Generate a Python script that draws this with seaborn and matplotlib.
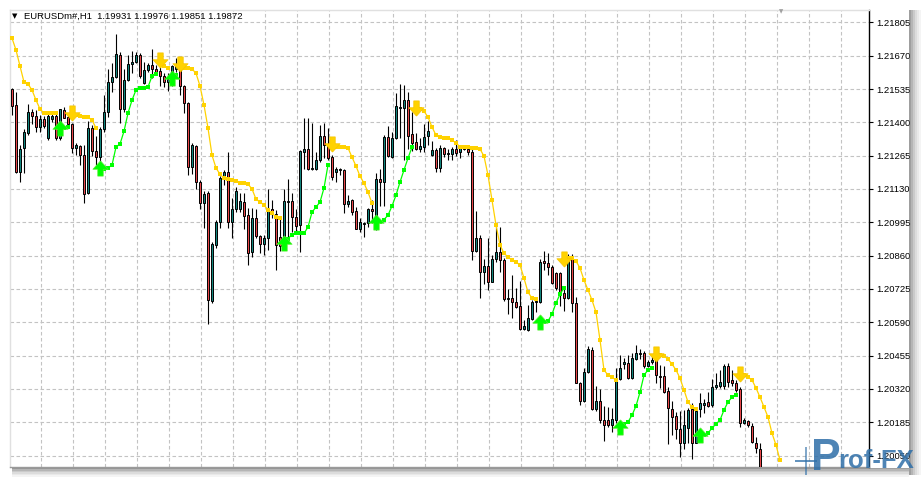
import numpy as np
import pandas as pd
import matplotlib
matplotlib.use("Agg")
import matplotlib.pyplot as plt
import seaborn as sns
from matplotlib.path import Path
from matplotlib.patches import Rectangle

sns.set_style("white")
plt.rcParams["font.family"] = ["Liberation Sans", "DejaVu Sans"]

# ---------------- data (EURUSD H1) ----------------
opens = [
    1.21533, 1.21470, 1.21200, 1.21298, 1.21355, 1.21440, 1.21425, 1.21382, 1.21413, 1.21335,
    1.21412, 1.21425, 1.21335, 1.21450, 1.21422, 1.21392, 1.21298, 1.21304, 1.21267, 1.21112,
    1.21379, 1.21283, 1.21260, 1.21371, 1.21440, 1.21564, 1.21584, 1.21671, 1.21456, 1.21571,
    1.21635, 1.21644, 1.21671, 1.21558, 1.21610, 1.21632, 1.21618, 1.21607, 1.21587, 1.21564,
    1.21564, 1.21618, 1.21625, 1.21547, 1.21479, 1.21220, 1.21305, 1.21159, 1.21072, 1.21112,
    1.20676, 1.20903, 1.20997, 1.21173, 1.21200, 1.20997, 1.21051, 1.21051, 1.21076, 1.21024,
    1.20876, 1.21011, 1.20939, 1.20907, 1.20930, 1.21051, 1.21027, 1.20936, 1.20903, 1.21078,
    1.21081, 1.21017, 1.20984, 1.21281, 1.21294, 1.21210, 1.21213, 1.21247, 1.21344, 1.21312,
    1.21258, 1.21197, 1.21207, 1.21207, 1.21068, 1.21084, 1.21040, 1.20970, 1.20989, 1.20991,
    1.21051, 1.20997, 1.21170, 1.21157, 1.21339, 1.21260, 1.21335, 1.21458, 1.21460, 1.21490,
    1.21351, 1.21319, 1.21292, 1.21301, 1.21344, 1.21267, 1.21288, 1.21217, 1.21297, 1.21271,
    1.21270, 1.21292, 1.21278, 1.21301, 1.21292, 1.21278, 1.20878, 1.20930, 1.20795, 1.20818,
    1.20754, 1.20845, 1.20876, 1.20842, 1.20689, 1.20689, 1.20673, 1.20656, 1.20563, 1.20558,
    1.20602, 1.20671, 1.20673, 1.20838, 1.20829, 1.20815, 1.20788, 1.20791, 1.20707, 1.20687,
    1.20851, 1.20667, 1.20345, 1.20271, 1.20387, 1.20478, 1.20237, 1.20271, 1.20194, 1.20194,
    1.20174, 1.20194, 1.20359, 1.20421, 1.20426, 1.20363, 1.20441, 1.20460, 1.20464, 1.20413,
    1.20428, 1.20440, 1.20372, 1.20372, 1.20313, 1.20237, 1.20210, 1.20156, 1.20100, 1.20160,
    1.20237, 1.20102, 1.20237, 1.20256, 1.20266, 1.20255, 1.20329, 1.20332, 1.20332, 1.20413,
    1.20356, 1.20345, 1.20318, 1.20183, 1.20190, 1.20170, 1.20102, 1.20075,
]
highs = [
    1.21540, 1.21521, 1.21308, 1.21373, 1.21473, 1.21456, 1.21450, 1.21429, 1.21426, 1.21436,
    1.21440, 1.21436, 1.21454, 1.21463, 1.21439, 1.21396, 1.21315, 1.21308, 1.21308, 1.21405,
    1.21389, 1.21345, 1.21382, 1.21510, 1.21618, 1.21639, 1.21756, 1.21686, 1.21618, 1.21672,
    1.21688, 1.21686, 1.21679, 1.21643, 1.21639, 1.21697, 1.21632, 1.21625, 1.21598, 1.21598,
    1.21632, 1.21659, 1.21659, 1.21551, 1.21483, 1.21315, 1.21308, 1.21166, 1.21121, 1.21121,
    1.20916, 1.21004, 1.21183, 1.21207, 1.21281, 1.21092, 1.21139, 1.21112, 1.21112, 1.21054,
    1.21054, 1.21051, 1.20943, 1.20943, 1.21132, 1.21085, 1.21044, 1.21017, 1.21130, 1.21170,
    1.21112, 1.21051, 1.21288, 1.21418, 1.21416, 1.21396, 1.21281, 1.21389, 1.21396, 1.21378,
    1.21267, 1.21220, 1.21215, 1.21209, 1.21105, 1.21090, 1.21058, 1.21011, 1.20997, 1.21054,
    1.21085, 1.21193, 1.21211, 1.21348, 1.21386, 1.21359, 1.21517, 1.21554, 1.21551, 1.21524,
    1.21443, 1.21355, 1.21335, 1.21392, 1.21405, 1.21324, 1.21297, 1.21308, 1.21300, 1.21294,
    1.21301, 1.21328, 1.21308, 1.21308, 1.21305, 1.21292, 1.21040, 1.20943, 1.20846, 1.20930,
    1.20862, 1.20991, 1.20977, 1.20851, 1.20725, 1.20781, 1.20730, 1.20757, 1.20599, 1.20660,
    1.20680, 1.20687, 1.20845, 1.20878, 1.20869, 1.20822, 1.20795, 1.20793, 1.20734, 1.20866,
    1.20866, 1.20691, 1.20349, 1.20403, 1.20494, 1.20491, 1.20332, 1.20318, 1.20251, 1.20248,
    1.20241, 1.20403, 1.20457, 1.20444, 1.20457, 1.20464, 1.20498, 1.20480, 1.20475, 1.20437,
    1.20453, 1.20453, 1.20417, 1.20413, 1.20329, 1.20272, 1.20228, 1.20230, 1.20234, 1.20241,
    1.20262, 1.20237, 1.20305, 1.20278, 1.20309, 1.20359, 1.20383, 1.20397, 1.20421, 1.20424,
    1.20397, 1.20356, 1.20329, 1.20201, 1.20194, 1.20181, 1.20126, 1.20100,
]
lows = [
    1.21429, 1.21193, 1.21157, 1.21193, 1.21348, 1.21393, 1.21359, 1.21359, 1.21378, 1.21330,
    1.21402, 1.21327, 1.21327, 1.21416, 1.21389, 1.21274, 1.21267, 1.21227, 1.21072, 1.21108,
    1.21264, 1.21227, 1.21227, 1.21359, 1.21422, 1.21524, 1.21578, 1.21396, 1.21440, 1.21567,
    1.21598, 1.21639, 1.21580, 1.21554, 1.21605, 1.21578, 1.21591, 1.21548, 1.21544, 1.21526,
    1.21548, 1.21605, 1.21510, 1.21436, 1.21186, 1.21190, 1.21128, 1.21047, 1.20973, 1.20582,
    1.20670, 1.20889, 1.20973, 1.21146, 1.20973, 1.20930, 1.21038, 1.21038, 1.20968, 1.20822,
    1.20855, 1.20930, 1.20872, 1.20862, 1.20882, 1.21013, 1.20801, 1.20878, 1.20895, 1.20916,
    1.20957, 1.20950, 1.20876, 1.21213, 1.21207, 1.21207, 1.21207, 1.21240, 1.21254, 1.21247,
    1.21166, 1.21157, 1.21186, 1.21031, 1.21058, 1.21024, 1.20968, 1.20954, 1.20936, 1.20977,
    1.20991, 1.20964, 1.21062, 1.21062, 1.21260, 1.21256, 1.21332, 1.21335, 1.21247, 1.21294,
    1.21283, 1.21288, 1.21281, 1.21281, 1.21308, 1.21264, 1.21197, 1.21197, 1.21260, 1.21247,
    1.21247, 1.21264, 1.21256, 1.21288, 1.21267, 1.20842, 1.20876, 1.20687, 1.20744, 1.20721,
    1.20752, 1.20835, 1.20795, 1.20676, 1.20622, 1.20608, 1.20646, 1.20558, 1.20558, 1.20556,
    1.20599, 1.20633, 1.20669, 1.20801, 1.20781, 1.20745, 1.20721, 1.20656, 1.20637, 1.20683,
    1.20633, 1.20343, 1.20255, 1.20266, 1.20383, 1.20235, 1.20232, 1.20183, 1.20110, 1.20167,
    1.20147, 1.20183, 1.20356, 1.20399, 1.20359, 1.20359, 1.20437, 1.20440, 1.20407, 1.20410,
    1.20421, 1.20343, 1.20322, 1.20305, 1.20097, 1.20133, 1.20116, 1.20043, 1.20075, 1.20100,
    1.20037, 1.20100, 1.20207, 1.20224, 1.20248, 1.20248, 1.20318, 1.20326, 1.20318, 1.20329,
    1.20332, 1.20309, 1.20167, 1.20178, 1.20167, 1.20102, 1.20059, 1.19960,
]
closes = [
    1.21466, 1.21200, 1.21294, 1.21359, 1.21440, 1.21426, 1.21382, 1.21413, 1.21386, 1.21426,
    1.21425, 1.21335, 1.21452, 1.21418, 1.21392, 1.21298, 1.21308, 1.21267, 1.21108, 1.21379,
    1.21283, 1.21260, 1.21371, 1.21440, 1.21562, 1.21584, 1.21675, 1.21456, 1.21571, 1.21635,
    1.21644, 1.21672, 1.21586, 1.21610, 1.21632, 1.21618, 1.21605, 1.21587, 1.21564, 1.21574,
    1.21628, 1.21632, 1.21547, 1.21477, 1.21220, 1.21308, 1.21159, 1.21072, 1.21109, 1.20680,
    1.20907, 1.20997, 1.21173, 1.21200, 1.20997, 1.21051, 1.21123, 1.21081, 1.21021, 1.20872,
    1.21011, 1.20939, 1.20906, 1.20931, 1.21051, 1.21027, 1.20903, 1.20900, 1.21081, 1.21082,
    1.21017, 1.20981, 1.21283, 1.21294, 1.21213, 1.21215, 1.21247, 1.21344, 1.21308, 1.21254,
    1.21177, 1.21213, 1.21211, 1.21068, 1.21081, 1.21038, 1.20970, 1.20997, 1.20992, 1.21051,
    1.21040, 1.21170, 1.21157, 1.21341, 1.21264, 1.21337, 1.21466, 1.21460, 1.21490, 1.21345,
    1.21315, 1.21292, 1.21304, 1.21341, 1.21364, 1.21288, 1.21217, 1.21297, 1.21270, 1.21274,
    1.21290, 1.21274, 1.21297, 1.21292, 1.21278, 1.20878, 1.20930, 1.20795, 1.20818, 1.20754,
    1.20846, 1.20876, 1.20842, 1.20683, 1.20683, 1.20673, 1.20653, 1.20561, 1.20575, 1.20608,
    1.20673, 1.20677, 1.20835, 1.20829, 1.20815, 1.20750, 1.20727, 1.20707, 1.20687, 1.20849,
    1.20667, 1.20345, 1.20271, 1.20387, 1.20480, 1.20237, 1.20271, 1.20194, 1.20174, 1.20174,
    1.20197, 1.20359, 1.20403, 1.20428, 1.20363, 1.20444, 1.20464, 1.20464, 1.20413, 1.20428,
    1.20437, 1.20376, 1.20367, 1.20309, 1.20241, 1.20207, 1.20156, 1.20100, 1.20174, 1.20234,
    1.20102, 1.20232, 1.20262, 1.20262, 1.20252, 1.20329, 1.20336, 1.20349, 1.20413, 1.20349,
    1.20345, 1.20316, 1.20183, 1.20194, 1.20174, 1.20106, 1.20079, 1.19990,
]

# trailing-stop indicator: bar index -> level
stop_down = {  # yellow line above price
    0: 1.21741, 1: 1.21693, 2: 1.21628, 3: 1.21563, 4: 1.21555, 5: 1.21531, 6: 1.21490,
    7: 1.21454, 8: 1.21437, 9: 1.21437, 10: 1.21437, 11: 1.21437,
    15: 1.21437, 16: 1.21429, 17: 1.21425, 18: 1.21423, 19: 1.21421, 20: 1.21409, 21: 1.21377,
    37: 1.21652, 38: 1.21628, 39: 1.21620,
    42: 1.21636, 43: 1.21620, 44: 1.21620, 45: 1.21616, 46: 1.21599, 47: 1.21547, 48: 1.21470,
    49: 1.21377, 50: 1.21267, 51: 1.21215, 52: 1.21190, 53: 1.21174, 54: 1.21170, 55: 1.21166,
    56: 1.21162, 57: 1.21156, 58: 1.21153, 59: 1.21150, 60: 1.21130, 61: 1.21089, 62: 1.21077,
    63: 1.21065, 64: 1.21045, 65: 1.21032, 66: 1.21017, 67: 1.21012,
    80: 1.21312, 81: 1.21301, 82: 1.21301, 83: 1.21301, 84: 1.21296, 85: 1.21259, 86: 1.21223,
    87: 1.21182, 88: 1.21154, 89: 1.21117, 90: 1.21073,
    101: 1.21458, 102: 1.21456, 103: 1.21445, 104: 1.21421, 105: 1.21381, 106: 1.21348,
    107: 1.21341, 108: 1.21338, 109: 1.21336, 110: 1.21328, 111: 1.21316, 112: 1.21301,
    113: 1.21300, 114: 1.21300, 115: 1.21298, 116: 1.21296, 117: 1.21292, 118: 1.21263,
    119: 1.21186, 120: 1.21085, 121: 1.20984, 122: 1.20903, 123: 1.20870, 124: 1.20854,
    125: 1.20842, 126: 1.20834, 127: 1.20822, 128: 1.20769, 129: 1.20712, 130: 1.20688,
    131: 1.20686,
    138: 1.20846, 139: 1.20850, 140: 1.20850, 141: 1.20838, 142: 1.20810, 143: 1.20761,
    144: 1.20721, 145: 1.20680, 146: 1.20631, 147: 1.20518, 148: 1.20397, 149: 1.20376,
    150: 1.20368, 151: 1.20356,
    161: 1.20461, 162: 1.20457, 163: 1.20453, 164: 1.20441, 165: 1.20421, 166: 1.20397,
    167: 1.20364, 168: 1.20316, 169: 1.20267, 170: 1.20247, 171: 1.20239,
    182: 1.20380, 183: 1.20376, 184: 1.20368, 185: 1.20356, 186: 1.20324, 187: 1.20287,
    188: 1.20247, 189: 1.20206, 190: 1.20141, 191: 1.20093, 192: 1.20032,
}
stop_up = {  # green line below price
    12: 1.21377, 13: 1.21377, 14: 1.21381,
    22: 1.21215, 23: 1.21211, 24: 1.21215, 25: 1.21227, 26: 1.21300, 27: 1.21312, 28: 1.21364,
    29: 1.21437, 30: 1.21490, 31: 1.21531, 32: 1.21539, 33: 1.21539, 34: 1.21543, 35: 1.21587,
    36: 1.21595,
    40: 1.21579, 41: 1.21591,
    68: 1.20911, 69: 1.20929, 70: 1.20945, 71: 1.20950, 72: 1.20950, 73: 1.20950, 74: 1.20976,
    75: 1.21036, 76: 1.21057, 77: 1.21077, 78: 1.21134, 79: 1.21227,
    91: 1.20996, 92: 1.20996, 93: 1.21006, 94: 1.21024, 95: 1.21061, 96: 1.21105, 97: 1.21158,
    98: 1.21207, 99: 1.21255, 100: 1.21300,
    132: 1.20591, 133: 1.20591, 134: 1.20595, 135: 1.20623, 136: 1.20668, 137: 1.20704,
    138: 1.20729,
    152: 1.20166, 153: 1.20178, 154: 1.20186, 155: 1.20214, 156: 1.20251, 157: 1.20307,
    158: 1.20376, 159: 1.20397, 160: 1.20405,
    172: 1.20133, 173: 1.20133, 174: 1.20141, 175: 1.20162, 176: 1.20178, 177: 1.20194,
    178: 1.20235, 179: 1.20267, 180: 1.20287, 181: 1.20295,
}
buy_arrows = [12, 22, 40, 68, 91, 132, 152, 172]
sell_arrows = [15, 37, 42, 80, 101, 138, 161, 182]

price_ticks = [1.21805, 1.21670, 1.21535, 1.21400, 1.21265, 1.21130, 1.20995,
               1.20860, 1.20725, 1.20590, 1.20455, 1.20320, 1.20185, 1.20050]
title_text = "EURUSDm#,H1  1.19931 1.19976 1.19851 1.19872"
logo_big, logo_rest = "P", "rof-FX"

# ---------------- styles ----------------
W, H = 921, 479
TEAL = "#12857d"
RED = "#e8474a"
GOLD = "#ffd200"
LIME = "#00ff00"
GRID = "#c3c3c3"
LOGO = "#2f6fa8"

fig = plt.figure(figsize=(W / 100, H / 100), dpi=100)
fig.patch.set_facecolor("white")
ax = fig.add_axes([10 / W, 12 / H, 859 / W, 457 / H])
ax.set_facecolor("white")

o, h, l, c = map(np.asarray, (opens, highs, lows, closes))
idx = np.arange(len(o))
up = c >= o

# candles
ax.vlines(idx, l, h, color="black", lw=0.8, zorder=3)
body_lo = np.minimum(o, c)
body_h = np.maximum(np.abs(c - o), 0.000025)
ax.bar(idx, body_h, bottom=body_lo, width=0.72,
       color=np.where(up, TEAL, RED), edgecolor="black", linewidth=0.7, zorder=4)


def to_frame(d):
    rows, seg, prev = [], 0, None
    for k in sorted(d):
        if prev is None or k != prev + 1:
            seg += 1
        rows.append((k, d[k], seg))
        prev = k
    return pd.DataFrame(rows, columns=["bar", "price", "seg"])


dfd = to_frame(stop_down)
dfu = to_frame(stop_up)
sns.lineplot(data=dfd, x="bar", y="price", units="seg", estimator=None, color=GOLD,
             lw=0.9, marker="s", markersize=2.4, markeredgewidth=0, ax=ax, zorder=5)
sns.lineplot(data=dfu, x="bar", y="price", units="seg", estimator=None, color=LIME,
             lw=0.9, marker="s", markersize=2.4, markeredgewidth=0, ax=ax, zorder=5)

up_arrow = Path([(0, 1), (1.0, -0.1), (0.36, -0.1), (0.36, -1), (-0.36, -1),
                 (-0.36, -0.1), (-1.0, -0.1), (0, 1)])
down_arrow = Path([(0, -1), (1.0, 0.1), (0.36, 0.1), (0.36, 1), (-0.36, 1),
                   (-0.36, 0.1), (-1.0, 0.1), (0, -1)])
sns.scatterplot(x=buy_arrows, y=[stop_up[k] for k in buy_arrows], marker=up_arrow,
                s=120, color=LIME, edgecolor="#55ee33", linewidth=0.5, ax=ax, zorder=6)
sns.scatterplot(x=sell_arrows, y=[stop_down[k] for k in sell_arrows], marker=down_arrow,
                s=120, color=GOLD, edgecolor="#f5c400", linewidth=0.5, ax=ax, zorder=6)

# axes & grid
ax.set_xlim(-0.5, 214.25)
ax.set_ylim(1.20004, 1.21855)
ax.set_xticks(np.arange(7.175, 214, 8))
ax.set_xticklabels([])
ax.set_yticks(price_ticks)
ax.set_yticklabels([f"{v:.5f}" for v in price_ticks])
ax.yaxis.tick_right()
ax.tick_params(axis="x", length=0)
ax.tick_params(axis="y", direction="out", length=3, width=0.8, colors="black",
               labelsize=6.8, pad=2.5)
ax.grid(True, color=GRID, ls=(0, (3.2, 2.2)), lw=0.8, zorder=0)
ax.set_axisbelow(True)
ax.set_xlabel("")
ax.set_ylabel("")
for name, sp in ax.spines.items():
    sp.set_linewidth(1.0)
ax.spines["right"].set_color("black")
ax.spines["left"].set_color("#e0e0e0")
ax.spines["top"].set_color("#e0e0e0")
ax.spines["bottom"].set_color("#9a9a9a")

# window shadow (right and bottom)
for k, a in enumerate([0.55, 0.42, 0.3, 0.2, 0.12, 0.06]):
    fig.add_artist(Rectangle(((909 + k * 2) / W, (H - 475) / H), 2 / W, (475 - 10) / H,
                             transform=fig.transFigure, color="#505050", alpha=a, lw=0))
    fig.add_artist(Rectangle((12 / W, (H - 469 - k * 1.5) / H), (909 - 12) / W, 1.5 / H,
                             transform=fig.transFigure, color="#505050", alpha=a, lw=0))

# header
fig.text(12 / W, 1 - 16 / H, "\u25bc", fontsize=5, family=["DejaVu Sans"],
         va="center", ha="left", color="black")
fig.text(24 / W, 1 - 16 / H, title_text, fontsize=6.8, va="center", ha="left", color="black")
fig.text(781 / W, 1 - 11.5 / H, "\u25bc", fontsize=4, family=["DejaVu Sans"],
         va="center", ha="center", color="#a0a0a0")

# watermark logo (bottom right)
fig.add_artist(Rectangle((795 / W, (H - 462) / H), 22 / W, 2 / H,
                         transform=fig.transFigure, color=LOGO, alpha=0.75, lw=0))
fig.add_artist(Rectangle((805 / W, (H - 475) / H), 1.5 / W, 28 / H,
                         transform=fig.transFigure, color=LOGO, alpha=0.6, lw=0))
fig.text(811 / W, 1 - 470 / H, logo_big, fontsize=32, fontweight="bold", color=LOGO,
         alpha=0.85, ha="left", va="baseline", family=["Liberation Sans"])
fig.text(838 / W, 1 - 468 / H, logo_rest, fontsize=18.5, fontweight="bold", color=LOGO,
         alpha=0.85, ha="left", va="baseline", family=["Liberation Sans"])

fig.savefig("out.png", dpi=100)
